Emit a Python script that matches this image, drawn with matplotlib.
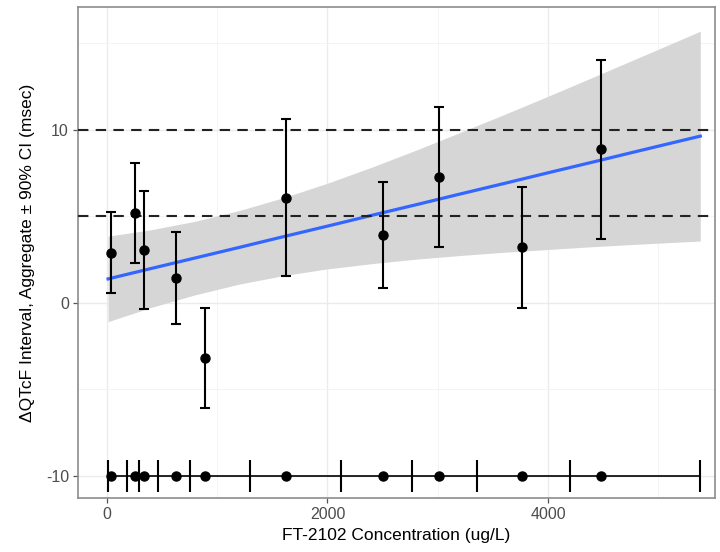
import matplotlib
matplotlib.use("Agg")
import matplotlib.pyplot as plt
import numpy as np

# Aggregate points (binned concentration, mean dQTcF and 90% CI)
conc = [33, 254, 339, 629, 892, 1621, 2507, 3014, 3764, 4485]
dqtcf = [2.87, 5.22, 3.06, 1.45, -3.18, 6.05, 3.93, 7.27, 3.24, 8.88]
ci_lo = [0.56, 2.33, -0.33, -1.19, -6.05, 1.56, 0.87, 3.26, -0.31, 3.68]
ci_hi = [5.24, 8.11, 6.47, 4.09, -0.31, 10.62, 7.01, 11.31, 6.72, 14.05]

# Regression line and its confidence band
fit_x = [10, 400, 800, 1200, 1600, 2000, 2400, 2800, 3200, 3600, 4000, 4400, 4800, 5382]
fit_y = [1.39, 1.99, 2.60, 3.21, 3.83, 4.44, 5.06, 5.67, 6.29, 6.90, 7.52, 8.13, 8.75, 9.64]
band_lo = [-1.08, -0.26, 0.47, 1.09, 1.58, 1.97, 2.27, 2.53, 2.74, 2.93, 3.09, 3.25, 3.39, 3.58]
band_hi = [3.86, 4.23, 4.72, 5.34, 6.08, 6.92, 7.84, 8.82, 9.84, 10.88, 11.94, 13.02, 14.11, 15.70]

# Concentration decile edges shown in the strip at the bottom
decile_edges = [10, 180, 292, 466, 754, 1300, 2123, 2764, 3358, 4203, 5382]
strip_y = -10
ref_lines = [5, 10]

plt.rcParams["font.family"] = ["Liberation Sans", "DejaVu Sans"]
plt.rcParams["axes.unicode_minus"] = False

fig = plt.figure(figsize=(7.2, 5.52), dpi=100)
ax = fig.add_axes([0.1083, 0.0978, 0.8847, 0.8895])

ax.fill_between(fit_x, band_lo, band_hi, color="#d6d6d6", lw=0, zorder=1)
ax.plot(fit_x, fit_y, color="#3366FF", lw=2.3, zorder=2)

for r in ref_lines:
    ax.axhline(r, color="#222222", lw=1.5, ls=(0, (5, 3.5)), zorder=3)

yerr = [np.array(dqtcf) - np.array(ci_lo), np.array(ci_hi) - np.array(dqtcf)]
ax.errorbar(conc, dqtcf, yerr=yerr, fmt="o", color="black", ms=6.5,
            elinewidth=1.5, capsize=3.5, capthick=1.5, zorder=4)

# bottom strip: range line, decile ticks, bin centres
ax.plot([decile_edges[0], decile_edges[-1]], [strip_y, strip_y],
        color="black", lw=1.2, zorder=4)
ax.vlines(decile_edges, strip_y - 0.92, strip_y + 0.92, color="black",
          lw=1.5, zorder=4)
ax.plot(conc, [strip_y] * len(conc), "o", color="black", ms=6.5, zorder=5)

ax.set_xlim(-263, 5515)
ax.set_ylim(-11.27, 17.1)
ax.set_xticks([0, 2000, 4000])
ax.set_yticks([-10, 0, 10])
ax.set_xticks([1000, 3000, 5000], minor=True)
ax.set_yticks([-5, 5, 15], minor=True)
ax.grid(which="major", color="#ebebeb", lw=1.0, zorder=0)
ax.grid(which="minor", color="#f2f2f2", lw=0.6, zorder=0)
ax.set_axisbelow(True)

for s in ax.spines.values():
    s.set_color("#8c8c8c")
    s.set_linewidth(1.2)
ax.tick_params(which="major", length=3.5, width=0.9, color="#555555",
               labelcolor="#4d4d4d", labelsize=11.5, pad=3)
ax.tick_params(which="minor", length=0)

ax.set_xlabel("FT-2102 Concentration (ug/L)", fontsize=12.5, labelpad=4)
ax.set_ylabel("\u0394QTcF Interval, Aggregate \u00b1 90% CI (msec)",
              fontsize=12.5, labelpad=8)

fig.savefig("out.png", dpi=100)
